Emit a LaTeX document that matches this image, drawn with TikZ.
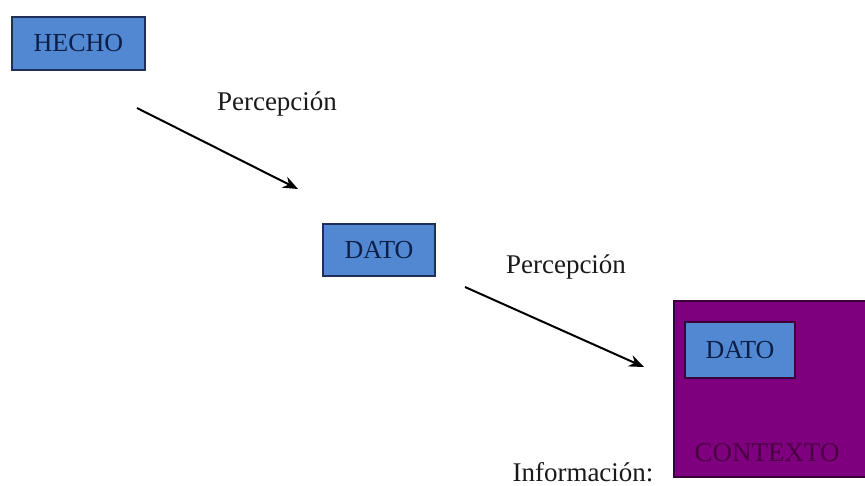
\documentclass[tikz,border=0pt]{standalone}
\usepackage{fontspec}
\setmainfont{Liberation Serif}
\usetikzlibrary{arrows.meta}
\definecolor{boxblue}{HTML}{5288D2}
\definecolor{boxedge}{HTML}{1F2F5A}
\definecolor{boxtext}{HTML}{0C1F48}
\definecolor{ctxfill}{HTML}{7F007F}
\definecolor{ctxedge}{HTML}{3A003A}
\definecolor{ctxtext}{HTML}{4A0042}
\definecolor{labeltext}{HTML}{1A1A1A}
\tikzset{
  bluebox/.style={draw=boxedge, line width=1.6pt, fill=boxblue, text=boxtext,
    font=\fontsize{26}{30}\selectfont, inner sep=0pt},
  lbl/.style={text=labeltext, font=\fontsize{27}{32}\selectfont, inner sep=0pt},
  flow/.style={line width=2pt, -{Stealth[length=15pt,width=12pt]}}
}
\begin{document}
\begin{tikzpicture}[x=1pt,y=-1pt]
  \useasboundingbox (0,0) rectangle (865,486);
  \fill[white] (0,0) rectangle (865,486);

  % first stage
  \node[bluebox, minimum width=133pt, minimum height=53pt] (hecho) at (78.5,43.5) {HECHO};
  \node[bluebox, minimum width=112pt, minimum height=52pt] (dato) at (379,250) {DATO};

  % context block with embedded data
  \node[draw=ctxedge, line width=1.4pt, fill=ctxfill, minimum width=194pt, minimum height=176pt,
        inner sep=0pt] (ctx) at (771,389) {};
  \node[bluebox, draw=ctxedge, minimum width=110pt, minimum height=56pt] (dato2) at (740,350) {DATO};
  \node[text=ctxtext, font=\fontsize{27}{32}\selectfont, inner sep=0pt] (ctxlbl) at (767,453) {CONTEXTO};

  % connectors
  \coordinate (a1s) at (137,108);
  \coordinate (a1e) at (298,189);
  \coordinate (a2s) at (465,287);
  \coordinate (a2e) at (644,367);
  \draw[flow] (a1s) -- (a1e);
  \draw[flow] (a2s) -- (a2e);

  % labels
  \node[lbl] (p1) at (277,104) {Percepción};
  \node[lbl] (p2) at (566,267) {Percepción};
  \node[lbl] (info) at (583,472) {Información:};
\end{tikzpicture}
\end{document}
